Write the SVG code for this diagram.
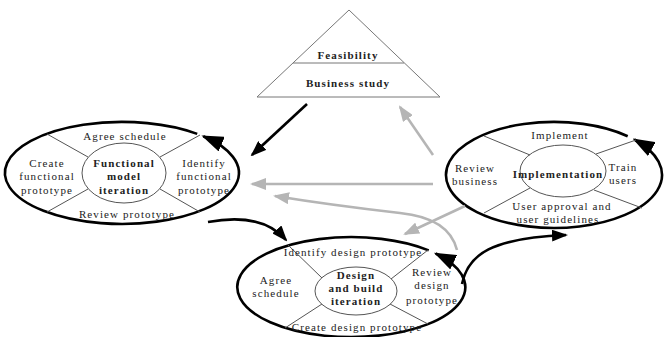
<svg xmlns="http://www.w3.org/2000/svg" width="666" height="337" viewBox="0 0 666 337">
<defs>
<style>
text{font-family:"Liberation Serif","Times New Roman",serif;font-size:11px;fill:#222;text-anchor:middle;letter-spacing:1.1px}
.b{font-weight:bold}
.outer{fill:none;stroke:#000;stroke-width:2.6}
.inner{fill:none;stroke:#555;stroke-width:1}
.rad{stroke:#555;stroke-width:1}
.blk{fill:none;stroke:#000;stroke-width:2.6}
.gry{fill:none;stroke:#b5b5b5;stroke-width:2.6}
</style>
<marker id="big" markerUnits="userSpaceOnUse" markerWidth="22" markerHeight="16" viewBox="0 0 22 16" refX="20" refY="8" orient="auto"><path d="M0,0 L22,8 L0,16 z" fill="#000"/></marker>
<marker id="ab" markerUnits="userSpaceOnUse" markerWidth="16" markerHeight="12" viewBox="0 0 16 12" refX="14" refY="6" orient="auto"><path d="M0,0 L16,6 L0,12 z" fill="#000"/></marker>
<marker id="ag" markerUnits="userSpaceOnUse" markerWidth="16" markerHeight="12" viewBox="0 0 16 12" refX="14" refY="6" orient="auto"><path d="M0,0 L16,6 L0,12 z" fill="#b5b5b5"/></marker>
</defs>
<rect width="666" height="337" fill="#fff"/>

<g id="feasibility">
<path d="M349,10 L257,97 L440,97 Z" fill="none" stroke="#777" stroke-width="1"/>
<line x1="293" y1="63" x2="404" y2="63" stroke="#777" stroke-width="1"/>
<text class="b" x="348" y="59">Feasibility</text>
<text class="b" x="348" y="87">Business study</text>
</g>

<g id="functional">
<path class="outer" d="M197.2,133.9 A117,51 0 1 0 203.3,136.3" marker-end="url(#big)"/>
<ellipse class="inner" cx="124" cy="173" rx="42" ry="30"/>
<line class="rad" x1="47" y1="134" x2="88" y2="157"/>
<line class="rad" x1="160" y1="157" x2="200" y2="135"/>
<line class="rad" x1="88" y1="189" x2="47" y2="212"/>
<line class="rad" x1="160" y1="189" x2="200" y2="212"/>
<text x="125" y="140">Agree schedule</text>
<text x="47" y="167">Create</text>
<text x="47" y="180">functional</text>
<text x="47" y="194">prototype</text>
<text class="b" x="124" y="167">Functional</text>
<text class="b" x="124" y="180">model</text>
<text class="b" x="124" y="194">iteration</text>
<text x="204" y="167">Identify</text>
<text x="204" y="180">functional</text>
<text x="204" y="194">prototype</text>
<text x="127" y="218">Review prototype</text>
</g>

<g id="implementation">
<path class="outer" d="M627.7,136.2 A108,53 0 1 0 634.3,139.5" marker-end="url(#big)"/>
<ellipse class="inner" cx="563" cy="171" rx="43" ry="26"/>
<line class="rad" x1="484" y1="136" x2="530" y2="155"/>
<line class="rad" x1="596" y1="154" x2="636" y2="140"/>
<line class="rad" x1="530" y1="188" x2="484" y2="213"/>
<line class="rad" x1="594" y1="190" x2="642" y2="208"/>
<text x="560" y="139">Implement</text>
<text x="475" y="172">Review</text>
<text x="475" y="185">business</text>
<text class="b" x="558" y="178">Implementation</text>
<text x="623" y="171">Train</text>
<text x="623" y="184">users</text>
<text x="562" y="210">User approval and</text>
<text x="558" y="223">user guidelines</text>
</g>

<g id="design">
<path class="outer" d="M428.7,250.4 A114,50 0 1 0 435.7,253.5" marker-end="url(#big)"/>
<ellipse class="inner" cx="356" cy="291" rx="41" ry="24"/>
<line class="rad" x1="288" y1="245" x2="322" y2="278"/>
<line class="rad" x1="391" y1="279" x2="428" y2="250"/>
<line class="rad" x1="322" y1="304" x2="285" y2="328"/>
<line class="rad" x1="390" y1="304" x2="428" y2="324"/>
<text x="353" y="256">Identify design prototype</text>
<text x="276" y="284">Agree</text>
<text x="276" y="297">schedule</text>
<text class="b" x="356" y="279">Design</text>
<text class="b" x="356" y="292">and build</text>
<text class="b" x="356" y="305">iteration</text>
<text x="432" y="276">Review</text>
<text x="432" y="289">design</text>
<text x="432" y="304">prototype</text>
<text x="357" y="331">Create design prototype</text>
</g>

<g id="connectors">
<line class="blk" x1="307" y1="104" x2="252" y2="155" marker-end="url(#ab)"/>
<line class="gry" x1="433" y1="155" x2="400" y2="107" marker-end="url(#ag)"/>
<line class="gry" x1="433" y1="184" x2="252" y2="184" marker-end="url(#ag)"/>
<path class="gry" d="M457,250 Q449,218 400,213 Q330,205 275,196" marker-end="url(#ag)"/>
<line class="gry" x1="465" y1="206" x2="405" y2="234" marker-end="url(#ag)"/>
<path class="blk" d="M208,222 Q262,212 286,240" marker-end="url(#ab)"/>
<path class="blk" d="M462,284 C468,254 492,238 566,235" marker-end="url(#ab)"/>
</g>
</svg>
